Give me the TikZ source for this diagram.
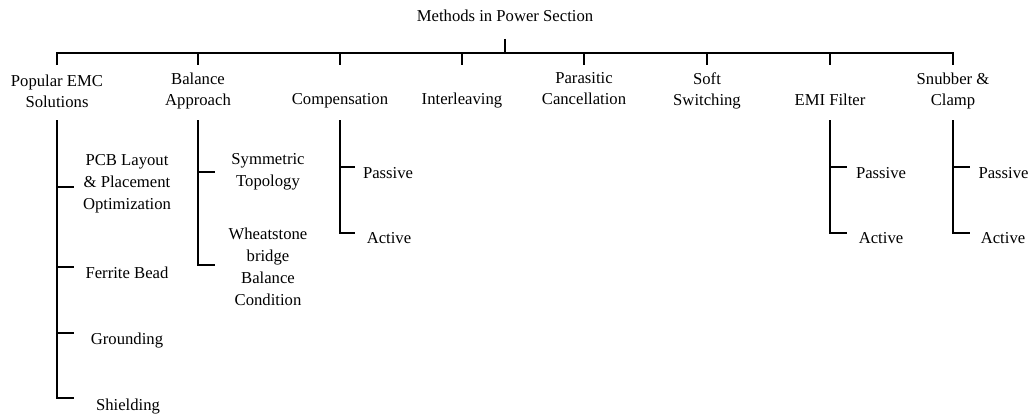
\documentclass[tikz,border=0pt]{standalone}
\usepackage{fontspec}
\setmainfont{Liberation Serif}
\usetikzlibrary{positioning}
\tikzset{
    %Define style for the headings
    head/.style={
           align=center,
           inner sep=2pt,
           font=\fontsize{12.5pt}{15.75pt}\selectfont},
    %Define style for the sub items
    leaf/.style={
           head,
           font=\fontsize{12.5pt}{16.5pt}\selectfont},
    % Define line style
    tree/.style={
           line width=1.3pt}
}

\begin{document}
\begin{tikzpicture}[x=0.75pt, y=-0.75pt]
     \useasboundingbox (0,0) rectangle (1030,414);
     \node[head] (root) at (505,15.5) {Methods in Power Section};
     \coordinate (bar) at (505,53);
     \coordinate (stub) at (0,65);
     \coordinate (vtop) at (0,120);

     \node[head] (popular) at (57,91) {Popular EMC\\Solutions};
     \node[head] (balance) at (198,91) {Balance\\Approach};
     \node[head] (compensation) at (340,101) {Compensation};
     \node[head] (interleaving) at (462,101) {Interleaving};
     \node[head] (parasitic) at (584,89) {Parasitic\\Cancellation};
     \node[head] (soft) at (707,91) {Soft\\Switching};
     \node[head] (emi) at (830,99.5) {EMI Filter};
     \node[head] (snubber) at (953,91) {Snubber \&\\Clamp};

     \draw[tree, shorten <=11pt] (root) -- (bar);
     \draw[tree] (popular |- stub) |- (snubber |- bar) -- (snubber |- stub);
     \foreach \n in {balance,compensation,interleaving,parasitic,soft,emi}
       \draw[tree] (\n |- bar) -- (\n |- stub);

     \node[leaf] (pcb) at (127,184) {PCB Layout\\\& Placement\\Optimization};
     \node[leaf] (ferrite) at (127,273) {Ferrite Bead};
     \node[leaf] (grounding) at (127,341) {Grounding};
     \node[leaf] (shielding) at (128,406.5) {Shielding};
     \coordinate (pcb-b) at (74,187);
     \coordinate (ferrite-b) at (74,267);
     \coordinate (grounding-b) at (74,333);
     \coordinate (shielding-b) at (74,398);
     \draw[tree] (popular |- vtop) |- (shielding-b);
     \foreach \b in {pcb,ferrite,grounding}
       \draw[tree] (popular |- \b-b) -- (\b-b);

     \node[leaf] (symmetric) at (268,171.5) {Symmetric\\Topology};
     \node[leaf] (wheatstone) at (268,266.5) {Wheatstone\\bridge\\Balance\\Condition};
     \coordinate (symmetric-b) at (215,172);
     \coordinate (wheatstone-b) at (215,265);
     \draw[tree] (balance |- vtop) |- (wheatstone-b);
     \draw[tree] (balance |- symmetric-b) -- (symmetric-b);

     \node[leaf] (passive0) at (388,173.5) {Passive};
     \node[leaf] (active0) at (389,238.5) {Active};
     \coordinate (passive0-b) at (355,167);
     \coordinate (active0-b) at (355,233);
     \draw[tree] (compensation |- vtop) |- (active0-b);
     \draw[tree] (compensation |- passive0-b) -- (passive0-b);

     \node[leaf] (passive1) at (881,173.5) {Passive};
     \node[leaf] (active1) at (881,238.5) {Active};
     \coordinate (passive1-b) at (847,167);
     \coordinate (active1-b) at (847,233);
     \draw[tree] (emi |- vtop) |- (active1-b);
     \draw[tree] (emi |- passive1-b) -- (passive1-b);

     \node[leaf] (passive2) at (1003.5,173.5) {Passive};
     \node[leaf] (active2) at (1003,238.5) {Active};
     \coordinate (passive2-b) at (970,167);
     \coordinate (active2-b) at (970,233);
     \draw[tree] (snubber |- vtop) |- (active2-b);
     \draw[tree] (snubber |- passive2-b) -- (passive2-b);
\end{tikzpicture}
\end{document}
